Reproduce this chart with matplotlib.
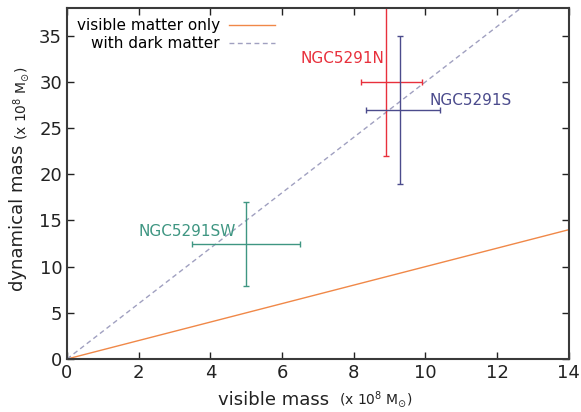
import numpy as np
import matplotlib
matplotlib.use('Agg')
import matplotlib.pyplot as plt

# galaxies: visible mass, dynamical mass and error bars (x 10^8 Msun)
names = ['NGC5291N', 'NGC5291S', 'NGC5291SW']
vis = [8.9, 9.3, 5.0]
vis_lo = [0.7, 0.95, 1.5]
vis_hi = [1.0, 1.1, 1.5]
dyn = [30.0, 27.0, 12.4]
dyn_lo = [8.0, 8.0, 4.5]
dyn_hi = [10.0, 8.0, 4.6]
colors = ['#e8303c', '#4b4b8c', '#3f9682']

# model lines
x_line = [0, 14]
visible_only = [0, 14]
dark_ratio = 3.0

fig = plt.figure(figsize=(5.81, 4.12), dpi=100)
ax = fig.add_axes([0.1153, 0.1286, 0.8637, 0.852])

ax.plot(x_line, visible_only, color='#f08848', lw=1.0, label='visible matter only')
ax.plot(x_line, [v * dark_ratio for v in x_line], color='#a0a0c0', lw=1.0,
        ls=(0, (3.5, 2.5)), label='with dark matter')

for i in range(len(names)):
    ax.errorbar(vis[i], dyn[i], xerr=[[vis_lo[i]], [vis_hi[i]]],
                yerr=[[dyn_lo[i]], [dyn_hi[i]]], color=colors[i],
                lw=1.0, capsize=2.5, capthick=1.0, fmt='none')

ax.text(8.85, 32.5, names[0], color=colors[0], fontsize=11, ha='right', va='center')
ax.text(10.1, 28.0, names[1], color=colors[1], fontsize=11, ha='left', va='center')
ax.text(4.7, 13.8, names[2], color=colors[2], fontsize=11, ha='right', va='center')

ax.set_xlim(0, 14)
ax.set_ylim(0, 38)
ax.set_xticks(range(0, 15, 2))
ax.set_yticks(range(0, 36, 5))
ax.tick_params(direction='in', top=True, right=True, labelsize=13,
               colors='#222222', length=5, width=1.0)
for s in ax.spines.values():
    s.set_linewidth(1.5)
    s.set_color('#3a3a3a')

leg = ax.legend(loc='upper left', frameon=False, markerfirst=False,
                fontsize=11, handlelength=3.0, handletextpad=0.6,
                borderaxespad=0.25, labelspacing=0.2, bbox_to_anchor=(0.0, 1.0))
for t in leg.get_texts():
    t.set_ha('right')
leg._legend_box.align = 'right'

# axis labels: main part large, units smaller
fig.text(335 / 581, 1 - 400 / 412, 'visible mass ', fontsize=13, color='#222222',
         ha='right', va='center')
fig.text(339 / 581, 1 - 400 / 412, r'(x 10$^8$ M$_{\odot}$)', fontsize=10,
         color='#222222', ha='left', va='center')
fig.text(18 / 581, 1 - 145 / 412, 'dynamical mass', fontsize=13, color='#222222',
         rotation=90, ha='center', va='top')
fig.text(22 / 581, 1 - 140 / 412, r'(x 10$^8$ M$_{\odot}$)', fontsize=10,
         color='#222222', rotation=90, ha='center', va='bottom')

fig.savefig('out.png', dpi=100)
